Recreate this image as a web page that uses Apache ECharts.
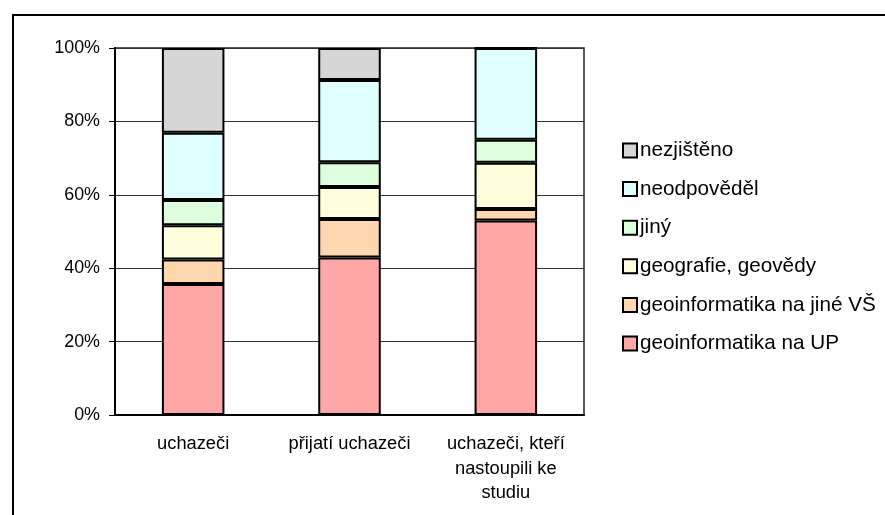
<!DOCTYPE html>
<html>
<head>
<meta charset="utf-8">
<script src="https://cdn.jsdelivr.net/npm/echarts@6/dist/echarts.min.js"></script>
<style>html,body{margin:0;padding:0;background:#fff}#c{width:885px;height:515px}</style>
</head>
<body>
<div id="c"></div>
<script>
var categories = ['uchazeči', 'přijatí uchazeči', 'uchazeči, kteří\nnastoupili ke\nstudiu'];
var seriesNames = ['geoinformatika na UP', 'geoinformatika na jiné VŠ', 'geografie, geovědy', 'jiný', 'neodpověděl', 'nezjištěno'];
var seriesColors = ['#FFA6A6', '#FFD8B0', '#FFFFDD', '#DDFFDD', '#E0FFFF', '#D6D6D6'];
var geoUP = [35.7, 42.9, 53.0];
var geoJineVS = [6.7, 10.5, 3.1];
var geografie = [9.3, 8.7, 12.6];
var jiny = [6.9, 6.8, 6.3];
var neodpovedel = [18.3, 22.4, 25.0];
var nezjisteno = [23.1, 8.7, 0];
var yTicks = [0, 20, 40, 60, 80, 100];

var values = [geoUP, geoJineVS, geografie, jiny, neodpovedel, nezjisteno];
var font = 'Liberation Sans, Arial, sans-serif';

var chart = echarts.init(document.getElementById('c'));
chart.setOption({
  animation: false,
  backgroundColor: '#fff',
  graphic: [{
    type: 'rect',
    shape: { x: 13, y: 15, width: 900, height: 520 },
    style: { fill: 'none', stroke: '#000', lineWidth: 2 },
    silent: true
  }],
  grid: { left: 115, right: 301, top: 48, bottom: 100, show: true, borderColor: '#222', borderWidth: 1.5 },
  legend: {
    orient: 'vertical',
    left: 617,
    top: 135,
    itemWidth: 14,
    itemHeight: 14,
    itemGap: 17.6,
    icon: 'rect',
    data: seriesNames.slice().reverse(),
    itemStyle: { borderColor: '#000', borderWidth: 2 },
    textStyle: { fontFamily: font, fontSize: 20.7, color: '#000', lineHeight: 20, padding: [0, 0, 0, -2] }
  },
  xAxis: {
    type: 'category',
    data: categories,
    axisLine: { lineStyle: { color: '#000', width: 2 } },
    axisTick: { show: false },
    axisLabel: { color: '#000', fontFamily: font, fontSize: 18.3, lineHeight: 24.5, margin: 17, interval: 0 }
  },
  yAxis: {
    type: 'value',
    min: yTicks[0],
    max: yTicks[yTicks.length - 1],
    interval: 20,
    axisLine: { show: true, lineStyle: { color: '#000', width: 2 } },
    axisTick: { show: true, length: 6, lineStyle: { color: '#000' } },
    axisLabel: { color: '#000', fontFamily: font, fontSize: 17.9, margin: 15, formatter: '{value}%' },
    splitLine: { show: true, lineStyle: { color: '#333', width: 1 } }
  },
  series: seriesNames.map(function (n, i) {
    return {
      name: n,
      type: 'bar',
      stack: 'total',
      barWidth: '40%',
      data: values[i],
      itemStyle: { color: seriesColors[i], borderColor: '#000', borderWidth: 2 }
    };
  })
});
</script>
</body>
</html>
